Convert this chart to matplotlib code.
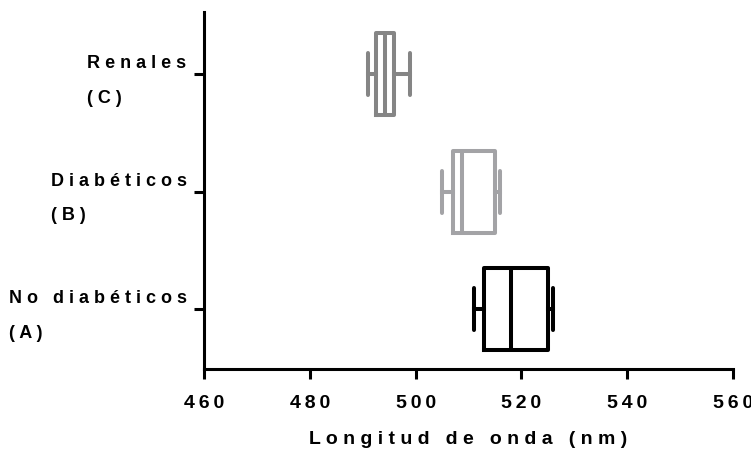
import matplotlib
matplotlib.use('Agg')
import matplotlib.pyplot as plt
import matplotlib.transforms as mtransforms

plt.rcParams['font.family'] = ['Liberation Sans', 'DejaVu Sans']
plt.rcParams['font.weight'] = 'bold'
plt.rcParams['axes.labelweight'] = 'bold'

# bottom to top
groups = ['No diabéticos\n(A)', 'Diabéticos\n(B)', 'Renales\n(C)']
whislo = [511.0, 505.0, 491.1]
q1 = [513.0, 507.1, 492.5]
med = [518.1, 508.8, 494.2]
q3 = [525.0, 515.0, 496.0]
whishi = [526.0, 516.0, 499.0]
colors = ['#000000', '#a3a3a6', '#858585']
xticks = [460, 480, 500, 520, 540, 560]


def spaced(s, sep=' '):
    # letter-spaced look of the original export
    return '\n'.join(sep.join(line) for line in s.split('\n'))


fig = plt.figure(figsize=(7.51, 4.49), dpi=100)
ax = fig.add_axes([0.2716, 0.178, 0.7044, 0.795])

lw = 2.9
for i in range(len(groups)):
    st = [{'whislo': whislo[i], 'q1': q1[i], 'med': med[i],
           'q3': q3[i], 'whishi': whishi[i], 'fliers': []}]
    c = colors[i]
    ax.bxp(st, positions=[i + 1], widths=0.7, capwidths=0.36,
           orientation='horizontal', showfliers=False,
           boxprops=dict(color=c, linewidth=lw),
           medianprops=dict(color=c, linewidth=lw),
           whiskerprops=dict(color=c, linewidth=lw),
           capprops=dict(color=c, linewidth=lw, solid_capstyle='round'))

ax.set_xlim(460, 560)
ax.set_ylim(0.49, 3.53)
ax.set_xticks(xticks)
ax.set_xticklabels([spaced(str(t), '\u2009') for t in xticks], fontsize=14)
ax.set_yticks([1, 2, 3])
ax.set_yticklabels([spaced(g) for g in groups], fontsize=13)

ax.set_xlabel(spaced('Longitud de onda (nm)'), fontsize=14, labelpad=14)

for s in ['top', 'right']:
    ax.spines[s].set_visible(False)
for s in ['left', 'bottom']:
    ax.spines[s].set_linewidth(2.2)
ax.tick_params(width=2.2, length=7.5)
ax.tick_params(axis='x', pad=11)
ax.tick_params(axis='y', pad=5)

shift = mtransforms.ScaledTranslation(0, 0.04, fig.dpi_scale_trans)
for lbl in ax.get_yticklabels():
    lbl.set_multialignment('left')
    lbl.set_linespacing(2.35)
    lbl.set_transform(lbl.get_transform() + shift)

plt.savefig('out.png', dpi=100)
